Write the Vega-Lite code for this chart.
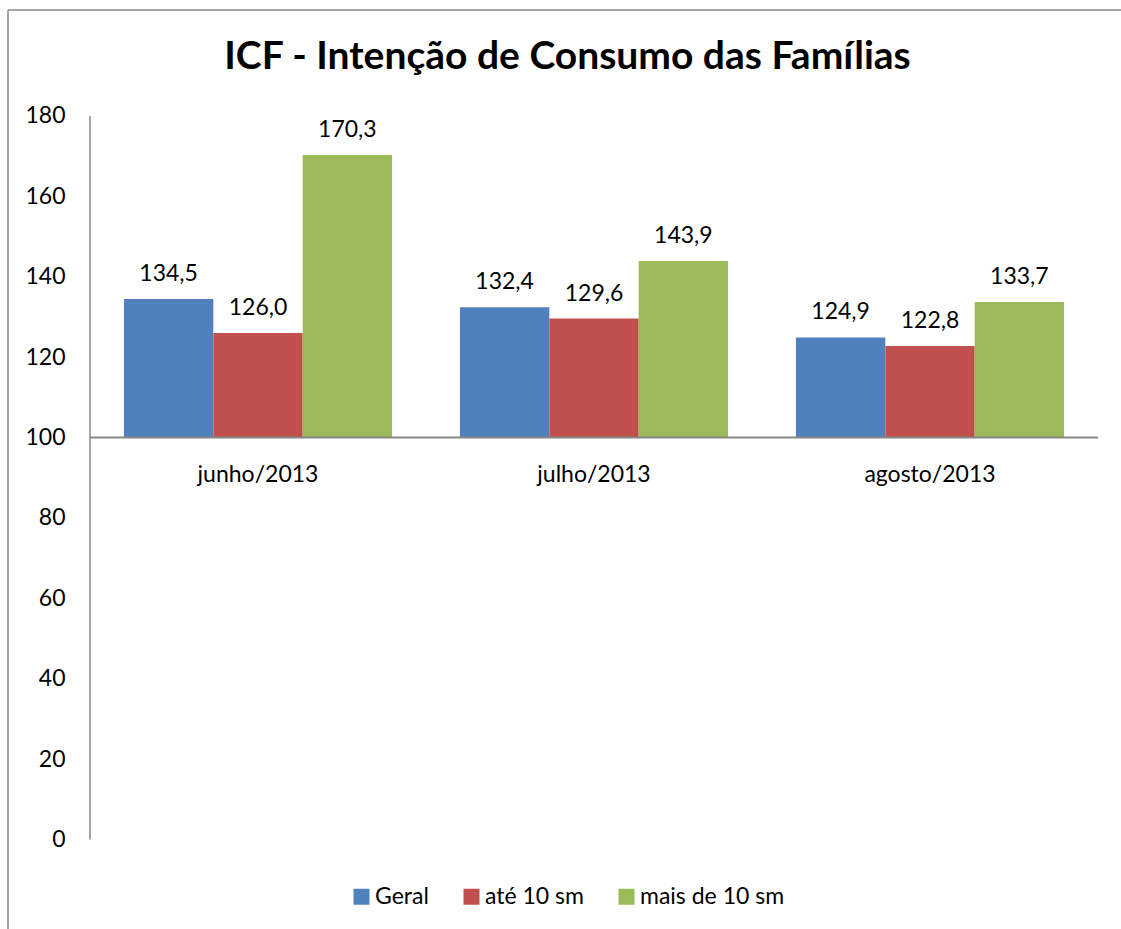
{
  "$schema": "https://vega.github.io/schema/vega-lite/v6.json",
  "width": 1113,
  "height": 919,
  "autosize": {"type": "none"},
  "padding": {"left": 8, "top": 10, "right": 0, "bottom": 0},
  "background": "white",
  "config": {
    "locale": {"number": {"decimal": ",", "thousands": ".", "grouping": [3], "currency": ["R$ ", ""]}},
    "font": "Lato",
    "view": {"stroke": null},
    "axis": {"labelFont": "Lato", "labelColor": "black"}
  },
  "title": {
    "text": "ICF - Intenção de Consumo das Famílias",
    "font": "Lato",
    "fontSize": 39,
    "fontWeight": "bold",
    "color": "black",
    "anchor": "middle",
    "frame": "group",
    "baseline": "alphabetic",
    "offset": -60,
    "dy": 39,
    "dx": 3
  },
  "datasets": {
    "bars": [
      {"mes": "junho/2013", "serie": "Geral", "valor": 134.5},
      {"mes": "junho/2013", "serie": "até 10 sm", "valor": 126.0},
      {"mes": "junho/2013", "serie": "mais de 10 sm", "valor": 170.3},
      {"mes": "julho/2013", "serie": "Geral", "valor": 132.4},
      {"mes": "julho/2013", "serie": "até 10 sm", "valor": 129.6},
      {"mes": "julho/2013", "serie": "mais de 10 sm", "valor": 143.9},
      {"mes": "agosto/2013", "serie": "Geral", "valor": 124.9},
      {"mes": "agosto/2013", "serie": "até 10 sm", "valor": 122.8},
      {"mes": "agosto/2013", "serie": "mais de 10 sm", "valor": 133.7}
    ]
  },
  "layer": [
    {
      "data": {"name": "bars"},
      "encoding": {
        "x": {
          "field": "mes", "type": "nominal",
          "sort": ["junho/2013", "julho/2013", "agosto/2013"],
          "scale": {"paddingInner": 0, "paddingOuter": 0.15625, "align": 0.781},
          "axis": {"orient": "bottom", "offset": -491.4, "domain": false, "ticks": false, "tickSize": 0, "grid": false, "labelPadding": 44, "labelBaseline": "alphabetic", "labelFontSize": 23, "labelAngle": 0, "title": null, "labelColor": "black"}
        },
        "xOffset": {
          "field": "serie", "type": "nominal",
          "sort": ["Geral", "até 10 sm", "mais de 10 sm"],
          "scale": {"paddingInner": 0, "paddingOuter": 0.38}
        },
        "y": {
          "field": "valor", "type": "quantitative",
          "scale": {"domain": [-22.27, 206.37], "nice": false, "zero": false},
          "axis": {"orient": "left", "offset": -82, "values": [0, 20, 40, 60, 80, 100, 120, 140, 160, 180], "domain": false, "ticks": false, "tickSize": 0, "grid": false, "labelPadding": 25, "labelFontSize": 23, "title": null, "labelColor": "black"}
        }
      },
      "layer": [
        {
          "mark": {"type": "bar"},
          "encoding": {
            "y2": {"datum": 100},
            "color": {
              "field": "serie", "type": "nominal",
              "sort": ["Geral", "até 10 sm", "mais de 10 sm"],
              "scale": {"domain": ["Geral", "até 10 sm", "mais de 10 sm"], "range": ["#4F81BD", "#C0504D", "#9BBB59"]},
              "legend": {
                "orient": "none", "legendX": 342, "legendY": 875, "direction": "horizontal",
                "title": null, "symbolType": "square", "symbolSize": 256, "symbolStrokeWidth": 0,
                "symbolOpacity": 1, "labelFontSize": 23, "labelFont": "Lato", "labelColor": "black",
                "labelOffset": 2, "columnPadding": 31, "padding": 0
              }
            }
          }
        },
        {
          "mark": {"type": "text", "baseline": "alphabetic", "dy": -18, "fontSize": 23, "font": "Lato", "color": "black"},
          "encoding": {
            "text": {"field": "valor", "type": "quantitative", "format": ".1f"}
          }
        }
      ]
    },
    {
      "data": {"values": [{}]},
      "encoding": {
        "x": {"datum": 0, "type": "quantitative", "scale": {"domain": [-0.24405, 3.06845], "nice": false, "zero": false}, "axis": null}
      },
      "layer": [
        {
          "mark": {"type": "rule", "color": "#868686", "strokeWidth": 1.5},
          "encoding": {
            "y": {"datum": 0, "type": "quantitative"},
            "y2": {"datum": 180}
          }
        },
        {
          "mark": {"type": "rule", "color": "#868686", "strokeWidth": 2},
          "encoding": {
            "x2": {"datum": 3},
            "y": {"datum": 100, "type": "quantitative"}
          }
        },
        {
          "mark": {"type": "rule", "color": "#898989", "strokeWidth": 1.5},
          "encoding": {
            "x": {"datum": -0.24405, "type": "quantitative"},
            "y": {"datum": -22.27, "type": "quantitative"},
            "y2": {"datum": 206.37}
          }
        },
        {
          "mark": {"type": "rule", "color": "#898989", "strokeWidth": 1.5},
          "encoding": {
            "x": {"datum": -0.24405, "type": "quantitative"},
            "x2": {"datum": 3.06845},
            "y": {"datum": 206.37, "type": "quantitative"}
          }
        }
      ]
    }
  ],
  "resolve": {"scale": {"x": "independent"}}
}
